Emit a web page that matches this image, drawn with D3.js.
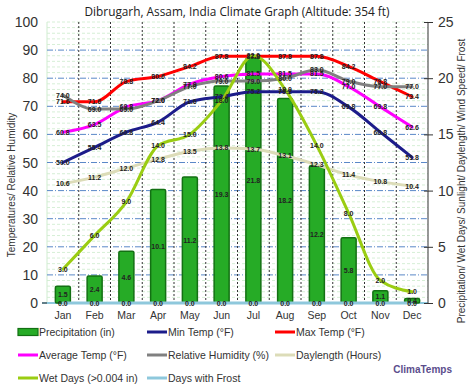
<!DOCTYPE html>
<html>
<head>
<meta charset="utf-8">
<script src="https://cdn.jsdelivr.net/npm/d3@7"></script>
<style>
  body { margin: 0; background: #fff; }
  svg { display: block; font-family: "Liberation Sans", Arial, sans-serif; }
</style>
</head>
<body>
<div class="chart"></div>
<script>
'use strict';

// Data
const months = ['Jan', 'Feb', 'Mar', 'Apr', 'May', 'Jun', 'Jul', 'Aug', 'Sep', 'Oct', 'Nov', 'Dec'];
const precipitation = [1.5, 2.4, 4.6, 10.1, 11.2, 19.3, 21.8, 18.2, 12.2, 5.8, 1.1, 0.4];
const minTemp = [50.0, 55.4, 60.8, 64.4, 71.6, 73.4, 75.2, 75.2, 75.2, 69.8, 60.8, 51.8];
const maxTemp = [71.6, 71.6, 78.8, 80.6, 84.2, 87.8, 87.8, 87.8, 87.8, 84.2, 78.8, 73.4];
const avgTemp = [60.8, 63.5, 69.8, 72.0, 77.9, 80.6, 81.5, 81.5, 81.5, 77.0, 69.8, 62.6];
const humidity = [74.0, 69.0, 69.0, 72.0, 77.0, 79.0, 79.0, 80.0, 83.0, 79.0, 77.0, 77.0];
const daylength = [10.6, 11.2, 12.0, 12.8, 13.5, 13.8, 13.7, 13.1, 12.3, 11.4, 10.8, 10.4];
const wetDays = [3.0, 6.0, 9.0, 14.0, 15.0, 18.0, 22.0, 19.0, 14.0, 8.0, 2.0, 1.0];
const frostDays = [0, 0, 0, 0, 0, 0, 0, 0, 0, 0, 0, 0];
const leftTicks = [0, 10, 20, 30, 40, 50, 60, 70, 80, 90, 100];
const rightTicks = [0, 5, 10, 15, 20, 25];

const w = 474;
const h = 389;
const plotLeft = 47, plotRight = 428, plotTop = 22, plotBottom = 303;

const svg = d3.select('.chart')
  .append('svg')
  .attr('width', w)
  .attr('height', h);

// Scales
const x = d3.scaleBand().domain(months).range([plotLeft, plotRight]);
const cx = m => x(m) + x.bandwidth() / 2;
const yL = d3.scaleLinear().domain([0, 100]).range([plotBottom, plotTop]);
const yR = d3.scaleLinear().domain([0, 25]).range([plotBottom, plotTop]);

// Title
svg.append('text')
  .attr('x', 237).attr('y', 16)
  .attr('text-anchor', 'middle')
  .attr('font-family', '"Open Sans", sans-serif')
  .attr('font-size', 13)
  .attr('textLength', 305)
  .attr('lengthAdjust', 'spacingAndGlyphs')
  .attr('fill', '#222')
  .text('Dibrugarh, Assam, India Climate Graph (Altitude: 354 ft)');

// Minor grid
const g = svg.append('g');
g.selectAll('.minor')
  .data(d3.range(2, 101, 2).filter(v => v % 10 !== 0 || v === 100))
  .enter().append('line')
  .attr('x1', plotLeft).attr('x2', plotRight)
  .attr('y1', d => yL(d)).attr('y2', d => yL(d))
  .attr('stroke', '#d6efd6')
  .attr('stroke-dasharray', '3,2')
  .attr('stroke-width', 1);

g.append('line')
  .attr('x1', plotLeft).attr('x2', plotLeft)
  .attr('y1', plotTop).attr('y2', plotBottom)
  .attr('stroke', '#cfeccf');

// Major grid
g.selectAll('.major')
  .data(leftTicks.filter(v => v > 0 && v < 100))
  .enter().append('line')
  .attr('x1', plotLeft).attr('x2', plotRight)
  .attr('y1', d => yL(d)).attr('y2', d => yL(d))
  .attr('stroke', '#5a88c8')
  .attr('stroke-dasharray', '6,2,1,2')
  .attr('stroke-width', 1);

g.selectAll('.vgrid')
  .data(months.slice(1))
  .enter().append('line')
  .attr('x1', d => x(d)).attr('x2', d => x(d))
  .attr('y1', plotTop).attr('y2', plotBottom)
  .attr('stroke', '#333')
  .attr('stroke-dasharray', '2,2')
  .attr('stroke-width', 1);

// Left axis labels
svg.selectAll('.ltick')
  .data(leftTicks)
  .enter().append('text')
  .attr('x', 38)
  .attr('y', d => yL(d) + 5)
  .attr('text-anchor', 'end')
  .attr('font-size', 14)
  .attr('fill', '#333')
  .text(d => d);

// Bottom baseline
svg.append('line')
  .attr('x1', plotLeft - 5).attr('x2', plotRight)
  .attr('y1', plotBottom).attr('y2', plotBottom)
  .attr('stroke', '#8ec8dc')
  .attr('stroke-width', 2);
svg.append('line')
  .attr('x1', plotLeft - 5).attr('x2', plotLeft)
  .attr('y1', plotBottom).attr('y2', plotBottom)
  .attr('stroke', '#333');

// Right axis
const rAxis = d3.axisRight(yR).tickValues(rightTicks).tickSize(5);
const ra = svg.append('g')
  .attr('transform', `translate(${plotRight}, 0)`)
  .call(rAxis);
ra.select('.domain').attr('stroke', '#333').attr('d', `M0,${plotBottom}V${plotTop}`);
ra.selectAll('.tick line').attr('x1', -4).attr('x2', 5).attr('stroke', '#333');
ra.selectAll('.tick text')
  .attr('x', 10)
  .attr('font-size', 14)
  .attr('font-family', '"Liberation Sans", Arial, sans-serif')
  .attr('fill', '#333');

// Axis titles
svg.append('text')
  .attr('transform', 'translate(15, 185) rotate(-90)')
  .attr('text-anchor', 'middle')
  .attr('font-size', 10)
  .attr('fill', '#333')
  .text('Temperatures/ Relative Humidity');

svg.append('text')
  .attr('transform', 'translate(465, 181) rotate(-90)')
  .attr('text-anchor', 'middle')
  .attr('font-size', 10)
  .attr('fill', '#333')
  .text('Precipitation/ Wet Days/ Sunlight/ Daylength/ Wind Speed/ Frost');

// Month labels
svg.selectAll('.month')
  .data(months)
  .enter().append('text')
  .attr('x', d => cx(d))
  .attr('y', 319)
  .attr('text-anchor', 'middle')
  .attr('font-size', 10.5)
  .attr('fill', '#333')
  .text(d => d);

// Bars
const barW = 15;
svg.selectAll('.bar')
  .data(precipitation)
  .enter().append('rect')
  .attr('x', (d, i) => cx(months[i]) - barW / 2)
  .attr('y', d => yR(d))
  .attr('width', barW)
  .attr('height', d => plotBottom - yR(d))
  .attr('rx', 1.5)
  .attr('fill', '#26ab26')
  .attr('stroke', '#137013')
  .attr('stroke-width', 1.5);

// Lines
const series = [
  { values: minTemp, scale: yL, color: '#1c1c8a' },
  { values: maxTemp, scale: yL, color: '#ff0000' },
  { values: avgTemp, scale: yL, color: '#ff00ff' },
  { values: humidity, scale: yL, color: '#808080' },
  { values: daylength, scale: yR, color: '#dcdcb8' },
  { values: wetDays, scale: yR, color: '#9acd12' },
  { values: frostDays, scale: yR, color: '#8ec8dc' }
];

series.forEach(s => {
  const line = d3.line()
    .x((d, i) => cx(months[i]))
    .y(d => s.scale(d))
    .curve(d3.curveMonotoneX);
  svg.append('path')
    .datum(s.values)
    .attr('d', line)
    .attr('fill', 'none')
    .attr('stroke', s.color)
    .attr('stroke-width', 3)
    .attr('stroke-linecap', 'round');
});

// Point labels
const labelG = svg.append('g')
  .attr('font-size', 7)
  .attr('font-weight', 'bold')
  .attr('fill', '#222')
  .attr('text-anchor', 'middle');

precipitation.forEach((d, i) => {
  labelG.append('text')
    .attr('x', cx(months[i]))
    .attr('y', (yR(d) + plotBottom) / 2 + 2.5)
    .text(d.toFixed(1));
});

series.forEach(s => {
  s.values.forEach((d, i) => {
    labelG.append('text')
      .attr('x', cx(months[i]))
      .attr('y', s.scale(d) + 2.5)
      .text(d.toFixed(1));
  });
});

// Legend
const legendItems = [
  { label: 'Precipitation (in)', color: '#26ab26', bar: true },
  { label: 'Min Temp (°F)', color: '#1c1c8a' },
  { label: 'Max Temp (°F)', color: '#ff0000' },
  { label: 'Average Temp (°F)', color: '#ff00ff' },
  { label: 'Relative Humidity (%)', color: '#808080' },
  { label: 'Daylength (Hours)', color: '#dcdcb8' },
  { label: 'Wet Days (>0.004 in)', color: '#9acd12' },
  { label: 'Days with Frost', color: '#8ec8dc' }
];
const colX = [18, 147, 275];
const rowY = [332, 355, 378];

const legend = svg.selectAll('.legend')
  .data(legendItems)
  .enter().append('g')
  .attr('transform', (d, i) => `translate(${colX[i % 3]}, ${rowY[Math.floor(i / 3)]})`);

legend.filter(d => d.bar).append('rect')
  .attr('x', 0).attr('y', -3.5)
  .attr('width', 20).attr('height', 7)
  .attr('fill', '#26ab26')
  .attr('stroke', '#137013')
  .attr('stroke-width', 1.2);

legend.filter(d => !d.bar).append('line')
  .attr('x1', 0).attr('x2', 20)
  .attr('y1', 0).attr('y2', 0)
  .attr('stroke', d => d.color)
  .attr('stroke-width', 3);

legend.append('text')
  .attr('x', 21)
  .attr('y', 4)
  .attr('font-size', 10.5)
  .attr('fill', '#333')
  .text(d => d.label);

// Brand
svg.append('text')
  .attr('x', 452).attr('y', 373)
  .attr('text-anchor', 'end')
  .attr('font-size', 10)
  .attr('font-weight', 'bold')
  .attr('fill', '#5b4d8c')
  .text('ClimaTemps');
</script>
</body>
</html>
